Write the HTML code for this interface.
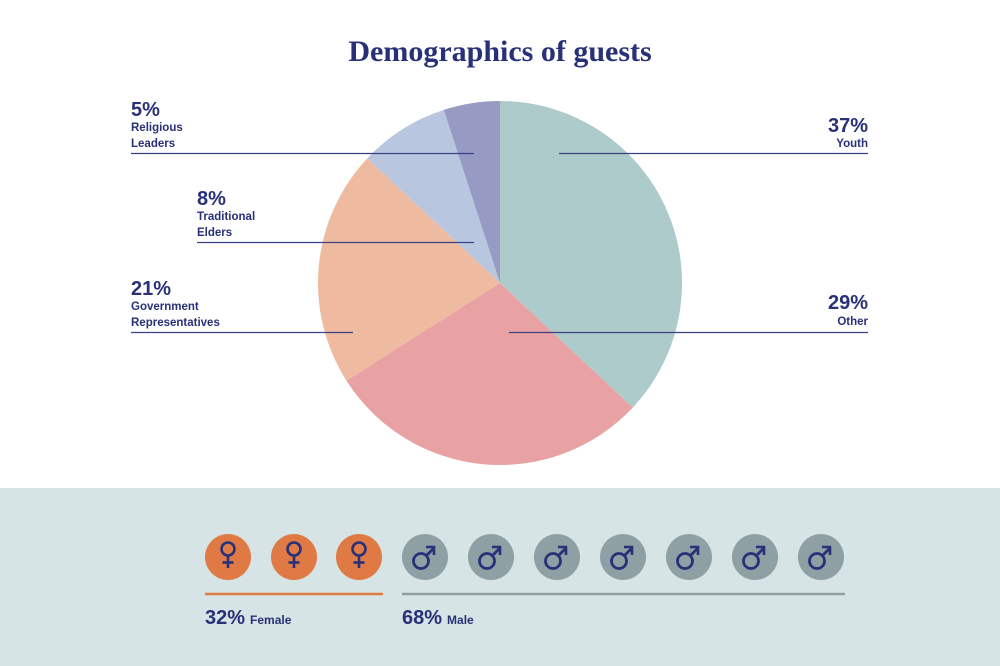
<!DOCTYPE html>
<html><head><style>
body{margin:0;background:#fff;}
svg{display:block}
text{font-family:"Liberation Sans",sans-serif;fill:#283178;font-weight:bold}
</style></head><body>
<svg width="1000" height="666" viewBox="0 0 1000 666">
<defs>
<g id="fem" fill="none" stroke="#283178" stroke-width="2.6">
<circle cx="0" cy="-5" r="6.5"/><line x1="0" y1="1.5" x2="0" y2="14"/><line x1="-5.5" y1="8.5" x2="5.5" y2="8.5"/>
</g>
<g id="mal" fill="none" stroke="#283178" stroke-width="2.8">
<circle cx="-3" cy="4" r="7.5"/><line x1="2.5" y1="-1.5" x2="10" y2="-9"/><polyline points="2,-10 10,-10 10,-2" stroke-width="2.6"/>
</g>
</defs>
<rect width="1000" height="666" fill="#fff"/>
<text x="500" y="61" text-anchor="middle" style="font-family:'Liberation Serif',serif;font-size:30px">Demographics of guests</text>
<g>
<path d="M500,283 L500,101 A182,182 0 0,1 632.7,407.6 Z" fill="#aecbcc"/>
<path d="M500,283 L632.7,407.6 A182,182 0 0,1 346.4,380.6 Z" fill="#e8a2a3"/>
<path d="M500,283 L346.4,380.6 A182,182 0 0,1 367.3,158.4 Z" fill="#efbba0"/>
<path d="M500,283 L367.3,158.4 A182,182 0 0,1 443.8,109.9 Z" fill="#b8c6df"/>
<path d="M500,283 L443.8,109.9 A182,182 0 0,1 500,101 Z" fill="#979bc4"/>
</g>
<g stroke="#3a4283" stroke-width="1.3">
<line x1="131" y1="153.5" x2="474" y2="153.5"/>
<line x1="197" y1="242.5" x2="474" y2="242.5"/>
<line x1="131" y1="332.5" x2="353" y2="332.5"/>
<line x1="559" y1="153.5" x2="868" y2="153.5"/>
<line x1="509" y1="332.5" x2="868" y2="332.5"/>
</g>
<g font-size="20"><text x="131" y="116">5%</text><text x="197" y="205">8%</text><text x="131" y="295">21%</text>
<text x="868" y="132" text-anchor="end">37%</text><text x="868" y="309" text-anchor="end">29%</text></g>
<g font-size="11.5"><text x="131" y="131">Religious</text><text x="131" y="147">Leaders</text>
<text x="197" y="220">Traditional</text><text x="197" y="236">Elders</text>
<text x="131" y="310">Government</text><text x="131" y="326">Representatives</text>
<text x="868" y="147" text-anchor="end">Youth</text><text x="868" y="325" text-anchor="end">Other</text></g>
<rect x="0" y="488" width="1000" height="178" fill="#d7e4e5"/>
<g fill="#e07a45"><circle cx="228" cy="557" r="23"/><circle cx="294" cy="557" r="23"/><circle cx="359" cy="557" r="23"/></g>
<g fill="#8ea0a4"><circle cx="425" cy="557" r="23"/><circle cx="491" cy="557" r="23"/><circle cx="557" cy="557" r="23"/><circle cx="623" cy="557" r="23"/><circle cx="689" cy="557" r="23"/><circle cx="755" cy="557" r="23"/><circle cx="821" cy="557" r="23"/></g>
<use href="#fem" x="228" y="554"/><use href="#fem" x="294" y="554"/><use href="#fem" x="359" y="554"/>
<use href="#mal" x="424" y="557"/><use href="#mal" x="490" y="557"/><use href="#mal" x="556" y="557"/><use href="#mal" x="622" y="557"/><use href="#mal" x="688" y="557"/><use href="#mal" x="754" y="557"/><use href="#mal" x="820" y="557"/>
<line x1="205" y1="594" x2="383" y2="594" stroke="#e07a45" stroke-width="2.5"/>
<line x1="402" y1="594" x2="845" y2="594" stroke="#8ea0a4" stroke-width="2.5"/>
<text x="205" y="624" font-size="20">32%<tspan font-size="12" dx="5">Female</tspan></text>
<text x="402" y="624" font-size="20">68%<tspan font-size="12" dx="5">Male</tspan></text>
</svg>
</body></html>
